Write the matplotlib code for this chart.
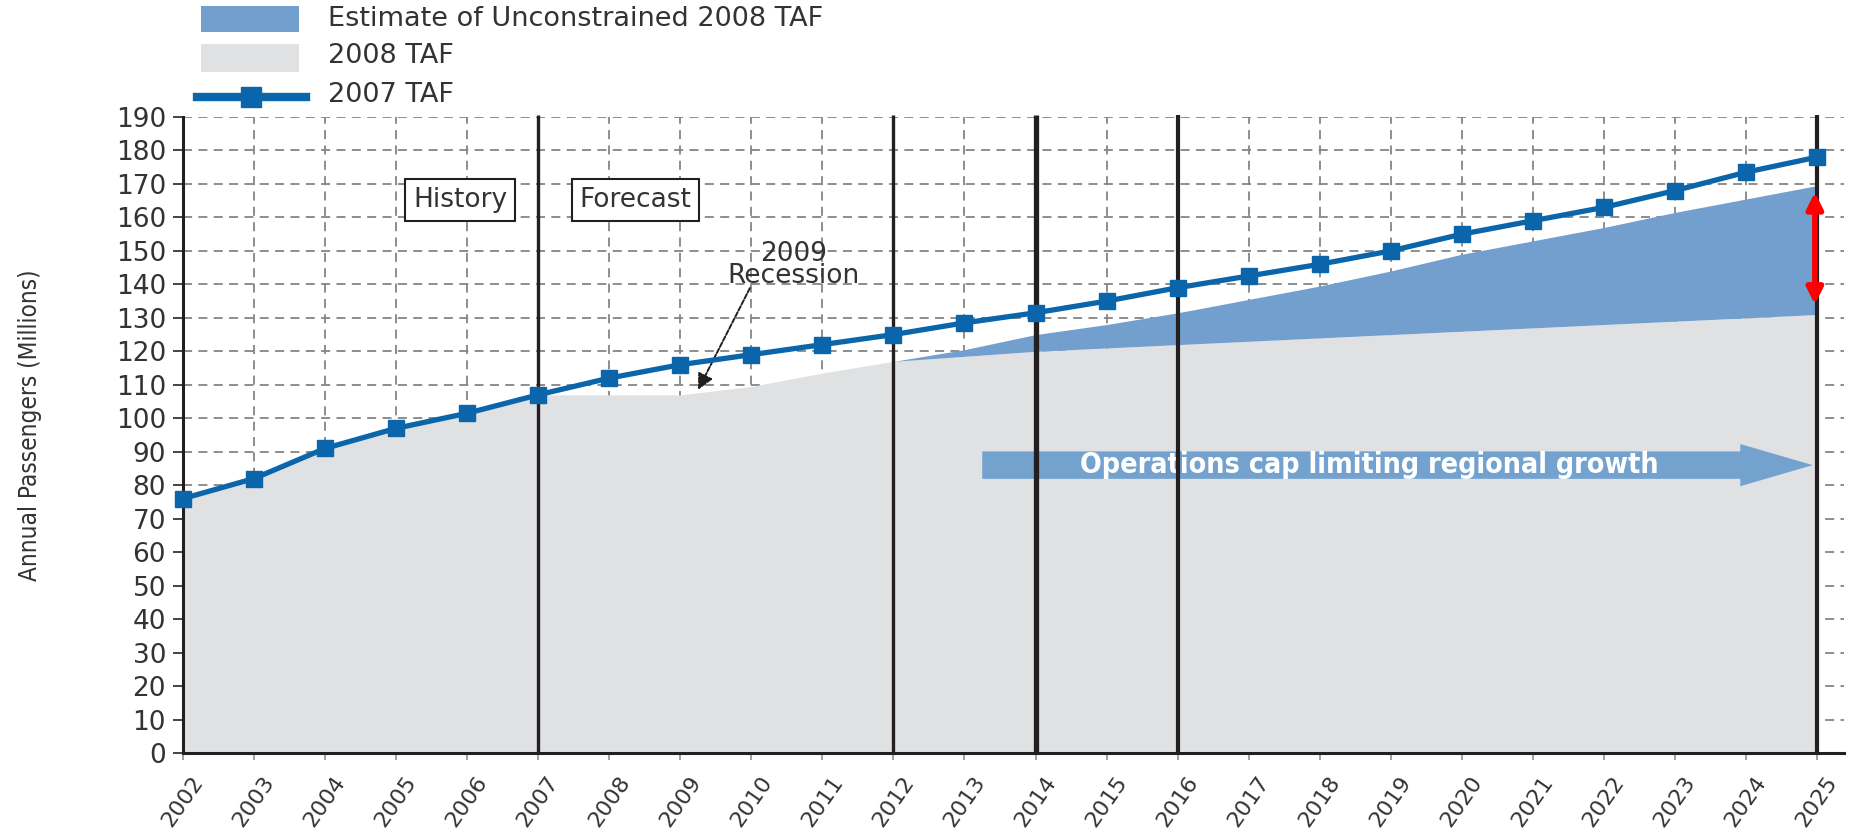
import matplotlib
matplotlib.use('Agg')
import matplotlib.pyplot as plt
from matplotlib.patches import Rectangle, FancyArrow
from matplotlib.lines import Line2D

# ---------------- data ----------------
years = list(range(2002, 2026))
taf2007 = [76, 82, 91, 97, 101.5, 107, 112, 116, 119, 122, 125, 128.5,
           131.5, 135, 139, 142.5, 146, 150, 155, 159, 163, 168, 173.5, 178]
taf2008 = [76, 82, 91, 97, 101.5, 107, 107, 107, 109.5, 113.5, 117, 118.5,
           120, 121, 122, 123, 124, 125, 126, 127, 128, 129, 130, 131]
unc_years = list(range(2012, 2026))
unconstrained = [117, 120.5, 125, 128, 131.5, 135.5, 139.5, 144, 149, 153,
                 157, 161.5, 165.5, 169.5]
yticks = list(range(0, 200, 10))
vline_years = [2007, 2012, 2014, 2016, 2025]
vline_widths = [2.4, 2.4, 3.8, 3.0, 3.0]
legend_labels = ["Estimate of Unconstrained 2008 TAF", "2008 TAF", "2007 TAF"]

# ---------------- style ----------------
C_LINE = '#0b65aa'
C_BLUE = '#729fcd'
C_GRAY = '#e0e1e3'
C_DARK = '#231f20'
C_TEXT = '#333333'

plt.rcParams['font.family'] = ['DejaVu Sans']

W, H = 1851, 834
fig = plt.figure(figsize=(W / 100, H / 100), dpi=100)
ax = fig.add_axes([183 / W, 1 - 753 / H, (1844 - 183) / W, (753 - 117) / H])

ax.set_xlim(2002, 2025.38)
ax.set_ylim(0, 190)

# grid
ax.set_axisbelow(True)
ax.grid(True, linestyle=(0, (5, 3.5)), color='#858585', lw=1.3)

# fills
ax.fill_between(years, 0, taf2008, color=C_GRAY, lw=0, zorder=1)
gray_sub = taf2008[years.index(2012):]
ax.fill_between(unc_years, gray_sub, unconstrained, color=C_BLUE, lw=0, zorder=1)

# operations cap arrow
ax.add_patch(FancyArrow(2013.25, 86.0, 2024.94 - 2013.25, 0, width=8.2,
                        head_width=12.6, head_length=1.02,
                        length_includes_head=True, color='#74a2cf', lw=0, zorder=2))
ax.text(2018.7, 86.0, "Operations cap limiting regional growth",
        fontsize=20.5, fontstretch='condensed', color='white', fontweight='bold',
        ha='center', va='center', zorder=3)

# vertical lines
for vy, vw in zip(vline_years, vline_widths):
    ax.vlines(vy, 0, 190.6, color=C_DARK, lw=vw, zorder=4, clip_on=False)

# 2007 TAF line
ax.plot(years, taf2007, color=C_LINE, lw=3.8, marker='s', markersize=11,
        zorder=6, clip_on=False)

# red double arrow
ax.annotate('', xy=(2024.97, 167.5), xytext=(2024.97, 134),
            arrowprops=dict(arrowstyle='<|-|>', color='red', lw=4,
                            mutation_scale=24, shrinkA=0, shrinkB=0), zorder=7)

# History / Forecast boxes
box = dict(boxstyle='square,pad=0.3', fc='white', ec=C_DARK, lw=1.5)
ax.text(2005.9, 165.2, "History", fontsize=19, ha='center', va='center',
        color=C_TEXT, bbox=box, zorder=5)
ax.text(2008.37, 165.2, "Forecast", fontsize=19, ha='center', va='center',
        color=C_TEXT, bbox=box, zorder=5)

# 2009 Recession
ax.text(2010.59, 145.7, "2009\nRecession", ha='center', va='center',
        fontsize=19, color=C_TEXT, linespacing=0.82, zorder=5)
ax.annotate('', xy=(2009.25, 108.5), xytext=(2009.98, 138.9),
            arrowprops=dict(arrowstyle='-|>', color=C_DARK, lw=1.4,
                            mutation_scale=24, shrinkA=0, shrinkB=0,
                            linestyle=(0, (2.5, 1))), zorder=5)

# axes / ticks
for s in ['top', 'right']:
    ax.spines[s].set_visible(False)
for s in ['left', 'bottom']:
    ax.spines[s].set_linewidth(2.2)
    ax.spines[s].set_color(C_DARK)
    ax.spines[s].set_zorder(5)

ax.set_yticks(yticks)
ax.set_yticklabels([str(v) for v in yticks], fontsize=19, color=C_TEXT)
ax.tick_params(axis='y', direction='out', length=7.2, width=1.4, color='#444444', pad=5)
ax.set_xticks(years)
ax.set_xticklabels([str(y) for y in years], fontsize=16, color=C_TEXT,
                   rotation=55, ha='center', va='top')
ax.tick_params(axis='x', direction='out', length=5, width=1.3, color='#999999', pad=9)

# y label
fig.text(30 / W, 1 - 425 / H, "Annual Passengers (Millions)", rotation=90,
         fontsize=17.5, fontstretch='condensed', color=C_TEXT,
         ha='center', va='center')

# legend (manual, figure pixel coordinates)
def fx(px):
    return px / W

def fy(py):
    return 1 - py / H

fig.add_artist(Rectangle((fx(201), fy(32)), fx(299) - fx(201), fy(6) - fy(32),
                         transform=fig.transFigure, fc=C_BLUE, ec='none'))
fig.add_artist(Rectangle((fx(201), fy(72)), fx(299) - fx(201), fy(44) - fy(72),
                         transform=fig.transFigure, fc=C_GRAY, ec='none'))
fig.add_artist(Line2D([fx(197), fx(306)], [fy(97), fy(97)], transform=fig.transFigure,
                      color=C_LINE, lw=6))
fig.add_artist(Line2D([fx(251)], [fy(97)], transform=fig.transFigure,
                      color=C_LINE, marker='s', markersize=14, lw=0))
for lab, py in zip(legend_labels, [19, 56, 95]):
    fig.text(fx(328), fy(py), lab, fontsize=19.5, color=C_TEXT, ha='left', va='center')

fig.savefig('out.png', dpi=100)
